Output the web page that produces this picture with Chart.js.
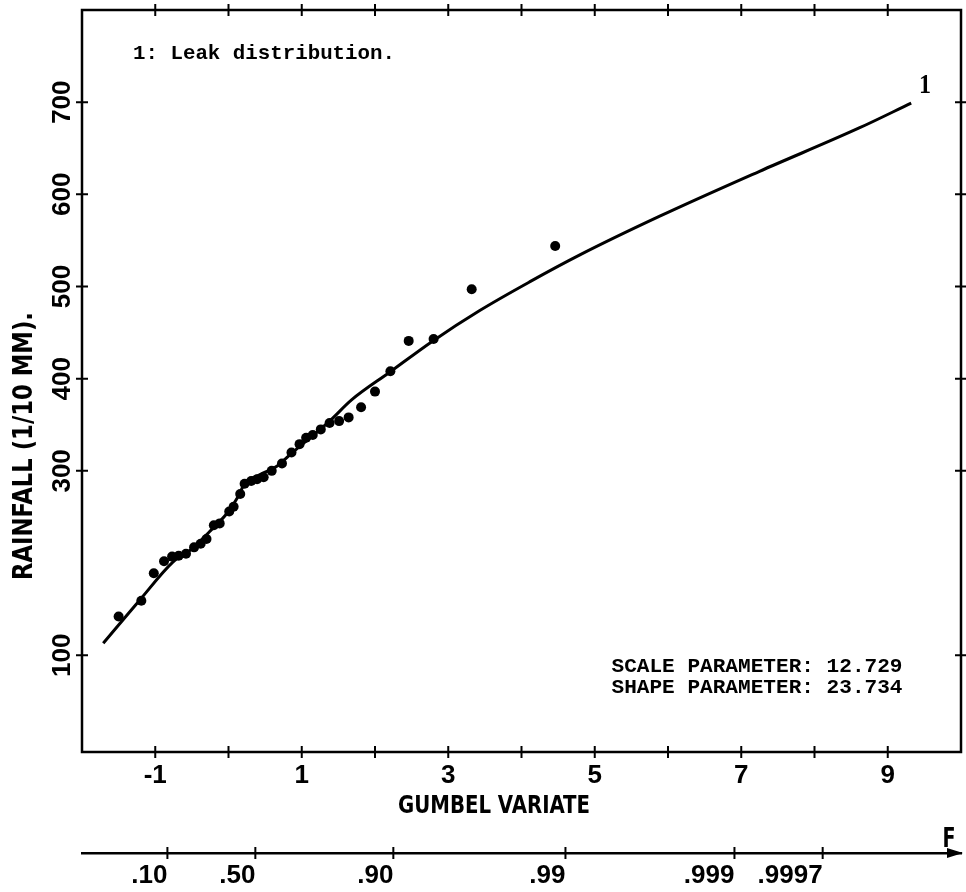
<!DOCTYPE html>
<html>
<head>
<meta charset="utf-8">
<title>Gumbel plot - Leak distribution</title>
<script src="https://cdn.jsdelivr.net/npm/chart.js@4.4.1/dist/chart.umd.min.js"></script>
<style>
  html, body { margin: 0; padding: 0; background: #fff; }
  #wrap { width: 966px; height: 892px; position: relative; }
</style>
</head>
<body>
<div id="wrap"><canvas id="gumbelChart"></canvas></div>
<script>
"use strict";
// observed maxima, plotted at their Gumbel reduced variate
const obsVariate = [-1.50, -1.19, -1.02, -0.88, -0.77, -0.68, -0.58, -0.47, -0.38, -0.30,
    -0.20, -0.12, 0.01, 0.07, 0.16, 0.22, 0.31, 0.39, 0.48, 0.59,
    0.73, 0.86, 0.97, 1.06, 1.15, 1.26, 1.38, 1.51, 1.64, 1.81,
    2.00, 2.21, 2.46, 2.80, 3.32, 4.46];
const obsRainfall = [142, 159, 189, 202, 207, 208, 210, 217, 221, 226,
    241, 243, 256, 261, 275, 286, 289, 291, 293, 300,
    308, 320, 329, 336, 339, 345, 352, 354, 358, 369,
    386, 408, 441, 443, 497, 544];
// fitted Leak distribution (curve 1)
const fitVariate = [-1.71, -1.21, -0.76, -0.49, -0.26, -0.02, 0.13, 0.22, 0.43, 0.66,
    0.86, 1.38, 1.68, 2.20, 2.79, 3.43, 4.11, 4.79, 5.88, 7.25, 8.61, 9.32];
const fitRainfall = [113, 160, 201, 216, 234, 254, 272, 286, 296, 305,
    319, 354, 377, 407, 441, 474, 505, 534, 576, 625, 672, 699];

const xTickValues = [-1, 0, 1, 2, 3, 4, 5, 6, 7, 8, 9];
const xLabelValues = [-1, 1, 3, 5, 7, 9];
const yTickValues = [100, 300, 400, 500, 600, 700];
const probValues = [0.10, 0.50, 0.90, 0.99, 0.999, 0.9997];
const probLabels = ['.10', '.50', '.90', '.99', '.999', '.9997'];

const SANS = "'Liberation Sans', Arial, sans-serif";
const NARROW = "'DejaVu Sans Condensed', 'Liberation Sans', sans-serif";
const MONO = "'Liberation Mono', 'DejaVu Sans Mono', monospace";

/**
 * Draws text centred on (cx, cy), squeezed or stretched to the given width.
 */
function fitText(ctx, text, cx, cy, width, font, rot) {
    ctx.save();
    ctx.font = font;
    ctx.translate(cx, cy);
    if (rot) ctx.rotate(rot);
    let w = ctx.measureText(text).width;
    ctx.scale(width / w, 1);
    ctx.textAlign = 'center';
    ctx.textBaseline = 'middle';
    ctx.fillText(text, 0, 0);
    ctx.restore();
}

function noPadding(s) {
    s.paddingTop = 0;
    s.paddingBottom = 0;
    s.paddingLeft = 0;
    s.paddingRight = 0;
}

// frame, crossing tick marks, F arrow and the free texts
const plotDecor = {
    id: 'plotDecor',
    afterDraw(chart) {
        const ctx = chart.ctx;
        const a = chart.chartArea;
        const xs = chart.scales.x, ys = chart.scales.y, ps = chart.scales.prob;
        const half = 6;
        ctx.save();
        ctx.strokeStyle = '#000';
        ctx.fillStyle = '#000';
        ctx.lineWidth = 2.5;
        ctx.strokeRect(a.left, a.top, a.right - a.left, a.bottom - a.top);

        ctx.lineWidth = 2;
        ctx.beginPath();
        xs.ticks.forEach(t => {
            let px = xs.getPixelForValue(t.value);
            ctx.moveTo(px, a.bottom - half); ctx.lineTo(px, a.bottom + half);
            ctx.moveTo(px, a.top - half); ctx.lineTo(px, a.top + half);
        });
        ys.ticks.forEach(t => {
            let py = ys.getPixelForValue(t.value);
            ctx.moveTo(a.left - half, py); ctx.lineTo(a.left + half, py);
            ctx.moveTo(a.right - half, py); ctx.lineTo(a.right + half, py);
        });
        ps.ticks.forEach(t => {
            let px = ps.getPixelForValue(t.value);
            ctx.moveTo(px, ps.top - half); ctx.lineTo(px, ps.top + half);
        });
        ctx.stroke();

        // arrow head of the F axis
        ctx.beginPath();
        ctx.moveTo(ps.right + 2, ps.top);
        ctx.lineTo(ps.right - 14, ps.top - 5);
        ctx.lineTo(ps.right - 14, ps.top + 5);
        ctx.closePath();
        ctx.fill();

        fitText(ctx, 'F', 949, 840, 13, 'bold 27px ' + NARROW);
        fitText(ctx, 'RAINFALL (1/10 MM).', 25, 446, 268, 'bold 27px ' + NARROW, -Math.PI / 2);
        fitText(ctx, 'GUMBEL VARIATE', 494, 806, 192, 'bold 25px ' + NARROW);
        fitText(ctx, '1: Leak distribution.', 264, 54, 262, 'bold 21px ' + MONO);
        fitText(ctx, 'SCALE PARAMETER: 12.729', 757, 667, 291, 'bold 21px ' + MONO);
        fitText(ctx, 'SHAPE PARAMETER: 23.734', 757, 688, 291, 'bold 21px ' + MONO);
        fitText(ctx, '1', 925, 86, 12, "bold 28px 'Liberation Serif', serif");
        ctx.restore();
    }
};

const tickFont = { family: SANS, size: 26, weight: 'bold' };

const ctx = document.getElementById('gumbelChart');
const gumbelChart = new Chart(ctx, {
    type: 'scatter',
    data: {
        datasets: [{
            type: 'line',
            label: '1: Leak distribution',
            data: fitVariate.map((v, i) => ({ x: v, y: fitRainfall[i] })),
            borderColor: '#000',
            borderWidth: 3,
            pointRadius: 0,
            cubicInterpolationMode: 'monotone',
            fill: false
        }, {
            label: 'Observed',
            data: obsVariate.map((v, i) => ({ x: v, y: obsRainfall[i] })),
            backgroundColor: '#000',
            borderWidth: 0,
            pointRadius: 5
        }]
    },
    options: {
        responsive: true,
        maintainAspectRatio: false,
        animation: false,
        layout: { padding: { left: 0, right: 4, top: 10, bottom: 0 } },
        plugins: {
            legend: { display: false },
            tooltip: { enabled: false }
        },
        scales: {
            x: {
                type: 'linear',
                position: 'bottom',
                weight: 0,
                min: -2,
                max: 10,
                afterBuildTicks: s => { s.ticks = xTickValues.map(v => ({ value: v })); },
                afterFit: s => { s.height = 101; noPadding(s); },
                grid: { display: false, drawTicks: false },
                border: { display: false },
                ticks: {
                    autoSkip: false,
                    maxRotation: 0,
                    padding: 8,
                    color: '#000',
                    font: tickFont,
                    callback: v => xLabelValues.includes(v) ? String(v) : ''
                }
            },
            prob: {
                type: 'linear',
                position: 'bottom',
                weight: 1,
                min: -2,
                max: 10,
                afterBuildTicks: s => {
                    s.ticks = probValues.map(p => ({ value: -Math.log(-Math.log(p)) }));
                },
                afterFit: s => { s.height = 39; noPadding(s); },
                grid: { display: false, drawTicks: false },
                border: { display: true, color: '#000', width: 2.5 },
                ticks: {
                    autoSkip: false,
                    maxRotation: 0,
                    align: 'end',
                    padding: 7,
                    color: '#000',
                    font: tickFont,
                    callback: (v, i) => probLabels[i]
                }
            },
            y: {
                type: 'linear',
                position: 'left',
                min: -5,
                max: 800,
                afterBuildTicks: s => { s.ticks = yTickValues.map(v => ({ value: v })); },
                afterFit: s => { s.width = 82; noPadding(s); },
                grid: { display: false, drawTicks: false },
                border: { display: false },
                ticks: {
                    minRotation: 90,
                    maxRotation: 90,
                    crossAlign: 'center',
                    padding: -3,
                    color: '#000',
                    font: tickFont
                }
            }
        }
    },
    plugins: [plotDecor]
});
</script>
</body>
</html>
